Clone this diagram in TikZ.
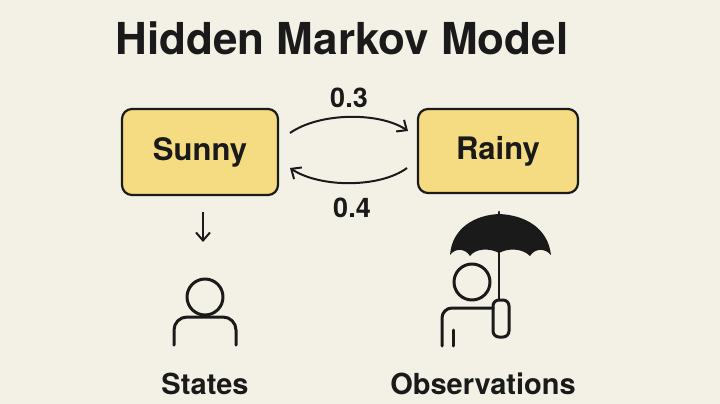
\documentclass[tikz,border=0pt]{standalone}
\usepackage{fontspec}
\setmainfont{TeX Gyre Heros}
\usetikzlibrary{arrows.meta}
\definecolor{bg}{HTML}{F3F0E6}
\definecolor{boxfill}{HTML}{F5DC82}
\definecolor{ink}{HTML}{1A1A1A}
\begin{document}
\begin{tikzpicture}[x=1pt,y=-1pt,
  state/.style={draw=ink,line width=2.2pt,fill=boxfill,rounded corners=10pt,minimum width=156pt,minimum height=86pt,font=\fontsize{31}{36}\selectfont\bfseries,text=ink},
  lbl/.style={font=\fontsize{27}{32}\selectfont\bfseries,text=ink},
  captext/.style={font=\fontsize{29}{34}\selectfont\bfseries,text=ink},
  arr/.style={draw=ink,line width=2pt,-{Straight Barb[length=8pt,width=14pt]}},
  icon/.style={draw=ink,line width=3pt,line cap=round,line join=round}]
\fill[bg] (0,0) rectangle (720,404);
\useasboundingbox (0,0) rectangle (720,404);
\node[font=\fontsize{44}{50}\selectfont\bfseries,text=ink] (title) at (342,38) {Hidden Markov Model};
\node[state] (sunny) at (200,152) {Sunny};
\node[state,minimum width=160pt,minimum height=84pt] (rainy) at (498,151) {Rainy};
\draw[arr] (290,133) .. controls (320,112) and (380,112) .. (408,131);
\draw[arr] (407,168) .. controls (380,188) and (320,188) .. (290,168);
\node[lbl] (p1) at (349,98) {0.3};
\node[lbl] (p2) at (352,208) {0.4};
% left person
\coordinate (a1) at (203,212);
\coordinate (a2) at (203,242);
\draw[arr] (a1) -- (a2);
\draw[icon] (205,297) circle (18);
\draw[icon,rounded corners=13pt] (174,345) -- (174,317) -- (236,317) -- (236,345);
\node[captext] (states) at (205,384) {States};
% right person with umbrella
\fill[ink] (450,255) .. controls (452,228) and (475,215) .. (499,214)
  .. controls (525,215) and (548,228) .. (551,255)
  .. controls (545,248) and (535,248) .. (530,256)
  .. controls (522,248) and (508,248) .. (499,253)
  .. controls (490,248) and (476,248) .. (470,256)
  .. controls (465,248) and (455,248) .. (450,255) -- cycle;
\draw[icon,line width=2.5pt] (499,212) -- (499,300);
\draw[icon] (472,282) circle (18);
\draw[icon,rounded corners=10pt] (442,346) -- (442,308) -- (493,308);
\draw[icon,rounded corners=6pt] (493,300) rectangle (509,337);
\draw[icon] (453,346) -- (453,330);
\node[captext] (obs) at (483,384) {Observations};
\end{tikzpicture}
\end{document}
